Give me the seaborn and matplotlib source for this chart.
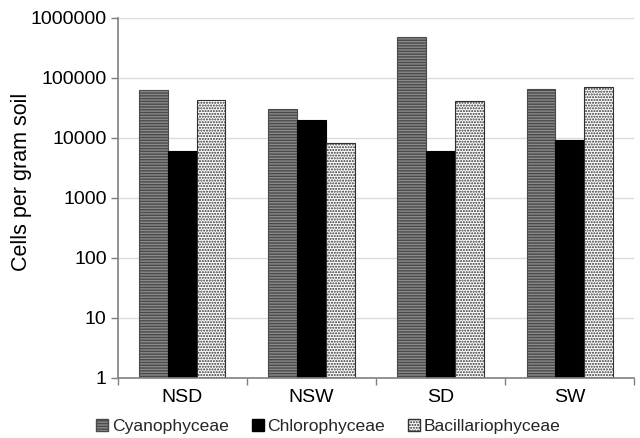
import matplotlib
matplotlib.use("Agg")
import matplotlib.pyplot as plt
import seaborn as sns
import pandas as pd
import numpy as np
from matplotlib.ticker import FixedLocator, NullLocator, FuncFormatter

sites = ["NSD", "NSW", "SD", "SW"]
classes = ["Cyanophyceae", "Chlorophyceae", "Bacillariophyceae"]
cyanophyceae = [63000, 30400, 488000, 66500]
chlorophyceae = [6100, 20000, 6000, 9400]
bacillariophyceae = [42300, 8250, 40700, 69700]
yticks = [1, 10, 100, 1000, 10000, 100000, 1000000]

df = pd.DataFrame({
    "site": sites * 3,
    "cls": [classes[0]] * 4 + [classes[1]] * 4 + [classes[2]] * 4,
    "val": cyanophyceae + chlorophyceae + bacillariophyceae,
})

sns.set_theme(style="white")
plt.rcParams["font.family"] = ["Liberation Sans", "DejaVu Sans"]
plt.rcParams["hatch.linewidth"] = 1.0

fig = plt.figure(figsize=(6.4, 4.38), dpi=100)
ax = fig.add_axes([0.184, 0.137, 0.807, 0.822])

faces = ["#8a8a8a", "#000000", "#ffffff"]
sns.barplot(data=df, x="site", y="val", hue="cls", order=sites, hue_order=classes,
            palette=faces, width=0.667, ax=ax, log_scale=(False, True), gap=0,
            saturation=1, legend=True)

hatches = ["------", None, "......"]
edges = ["#4a4a4a", "#000000", "#303030"]
for cont, h, ec, fc in zip(ax.containers, hatches, edges, faces):
    for p in cont:
        p.set_facecolor(fc)
        p.set_edgecolor(ec)
        p.set_linewidth(0.8)
        if h:
            p.set_hatch(h)

ax.set_yscale("log")
ax.set_ylim(1, 1000000)
ax.set_xlim(-0.5, 3.5)
ax.yaxis.set_major_locator(FixedLocator(yticks))
ax.yaxis.set_minor_locator(NullLocator())
ax.yaxis.set_major_formatter(FuncFormatter(lambda v, p: f"{int(round(v))}"))
ax.xaxis.set_minor_locator(FixedLocator([-0.5, 0.5, 1.5, 2.5, 3.5]))
ax.tick_params(axis="x", which="major", length=0, labelsize=14, pad=8, colors="black")
ax.tick_params(axis="x", which="minor", length=5, width=1, color="#808080", bottom=True, direction="out")
ax.tick_params(axis="y", which="major", length=5, width=1, color="#808080", left=True,
               labelsize=14, pad=3, labelcolor="black")
ax.grid(axis="y", color="#dcdcdc", linewidth=1)
ax.set_axisbelow(True)
for s in ["top", "right"]:
    ax.spines[s].set_visible(False)
for s in ["left", "bottom"]:
    ax.spines[s].set_color("#808080")
    ax.spines[s].set_linewidth(1.2)

ax.set_xlabel("")
ax.set_ylabel("Cells per gram soil", color="black")
ax.yaxis.label.set_fontsize(15.5)
ax.yaxis.set_label_coords(-0.167, 0.544)

leg = ax.get_legend()
handles = leg.legend_handles
leg.remove()
for hd, h, ec, fc in zip(handles, hatches, edges, faces):
    hd.set_facecolor(fc)
    hd.set_edgecolor(ec)
    if h:
        hd.set_hatch(h)
fig.legend(handles, classes, loc="center", bbox_to_anchor=(0.513, 0.026), ncol=3,
           frameon=False, fontsize=12.6, handlelength=0.7, handleheight=0.7,
           handletextpad=0.2, columnspacing=1.3)

fig.savefig("out.png", dpi=100)
